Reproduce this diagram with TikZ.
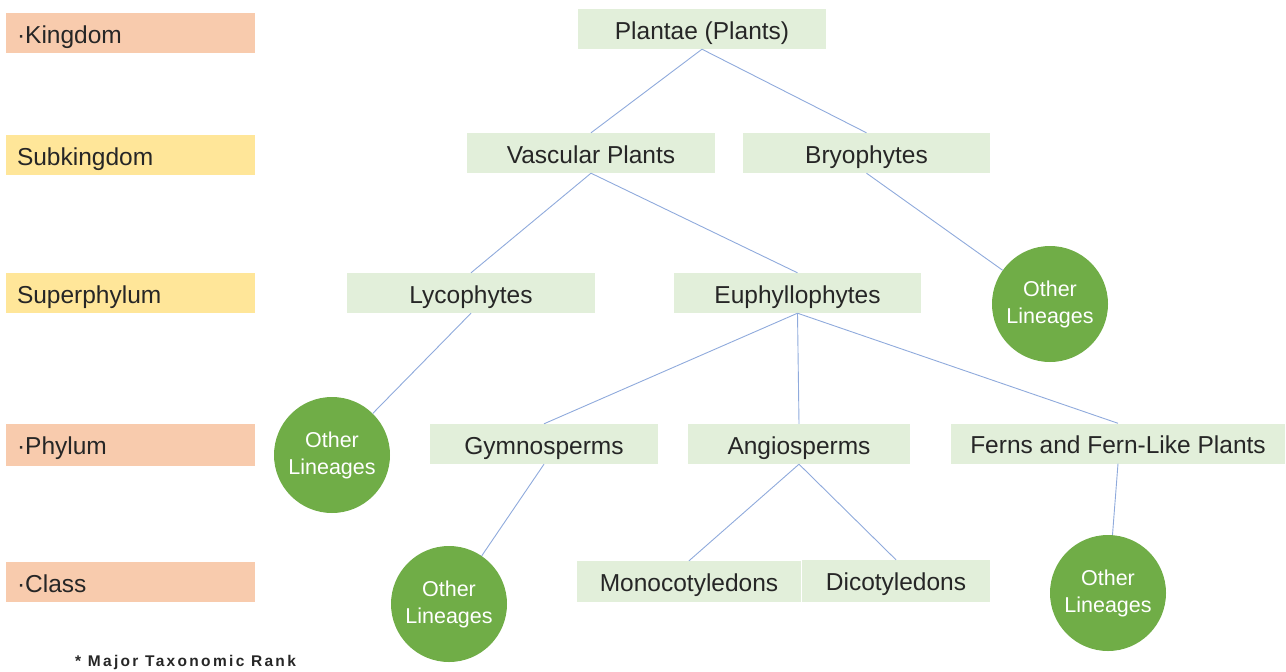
\documentclass[tikz,border=0pt]{standalone}
\usepackage{fontspec}
\setmainfont{Liberation Sans}
\definecolor{peach}{HTML}{F8CBAD}
\definecolor{ylw}{HTML}{FFE699}
\definecolor{gbox}{HTML}{E2EFDA}
\definecolor{gcirc}{HTML}{70AD47}
\definecolor{lnk}{HTML}{8FAADC}
\begin{document}
\begin{tikzpicture}[x=1pt,y=-1pt,
  rank/.style={fill=#1, minimum height=40pt, text height=30pt, text depth=10pt, text width=227pt, inner xsep=11pt, inner ysep=0pt, align=left, font=\fontsize{24.5}{28}\selectfont, text=black!85},
  taxon/.style={fill=gbox, minimum height=40pt, text height=30pt, text depth=10pt, minimum width=#1, inner sep=0pt, font=\fontsize{24.5}{28}\selectfont, text=black!85},
  other/.style={circle, fill=gcirc, minimum size=116pt, inner sep=0pt, align=center, text=white, font=\fontsize{21.5}{27}\selectfont},
  link/.style={draw=lnk, line width=0.9pt}]
\useasboundingbox (0,0) rectangle (1286,672);
% rank labels
\node[rank=peach] (kingdom) at (130.5,33) {\textperiodcentered Kingdom};
\node[rank=ylw] (subkingdom) at (130.5,155) {Subkingdom};
\node[rank=ylw] (superphylum) at (130.5,293) {Superphylum};
\node[rank=peach, minimum height=42pt, text height=31pt, text depth=11pt] (phylum) at (130.5,444.5) {\textperiodcentered Phylum};
\node[rank=peach] (class) at (130.5,582) {\textperiodcentered Class};
\node[anchor=west, inner sep=0pt, font=\fontsize{15.5}{18}\selectfont\bfseries\addfontfeature{LetterSpace=15}, text=black!85] (note) at (75,662) {* Major Taxonomic Rank};
% taxa
\node[taxon=248pt] (plantae) at (702,29) {Plantae (Plants)};
\node[taxon=248pt] (vascular) at (591,153) {Vascular Plants};
\node[taxon=247pt] (bryo) at (866.5,153) {Bryophytes};
\node[taxon=248pt] (lyco) at (471,293) {Lycophytes};
\node[taxon=247pt] (euph) at (797.5,293) {Euphyllophytes};
\node[taxon=228pt] (gymno) at (544,444) {Gymnosperms};
\node[taxon=222pt] (angio) at (799,444) {Angiosperms};
\node[taxon=334pt] (ferns) at (1118,443.5) {Ferns and Fern-Like Plants};
\node[taxon=224pt, minimum height=41pt, text depth=11pt] (mono) at (689,581.5) {Monocotyledons};
\node[taxon=188pt, minimum height=42pt, text depth=12pt] (dico) at (896,581) {Dicotyledons};
% other lineages
\node[other] (ol1) at (1050,304) {Other\\Lineages};
\node[other] (ol2) at (332,455) {Other\\Lineages};
\node[other] (ol3) at (449,604) {Other\\Lineages};
\node[other] (ol4) at (1108,593) {Other\\Lineages};
% connectors
\draw[link] (plantae.south) -- (vascular.north);
\draw[link] (plantae.south) -- (bryo.north);
\draw[link] (vascular.south) -- (lyco.north);
\draw[link] (vascular.south) -- (euph.north);
\draw[link] (bryo.south) -- (ol1);
\draw[link] (lyco.south) -- (ol2);
\draw[link] (euph.south) -- (gymno.north);
\draw[link] (euph.south) -- (angio.north);
\draw[link] (euph.south) -- (ferns.north);
\draw[link] (gymno.south) -- (ol3);
\draw[link] (angio.south) -- (mono.north);
\draw[link] (angio.south) -- (dico.north);
\draw[link] (ferns.south) -- (ol4);
\end{tikzpicture}
\end{document}
